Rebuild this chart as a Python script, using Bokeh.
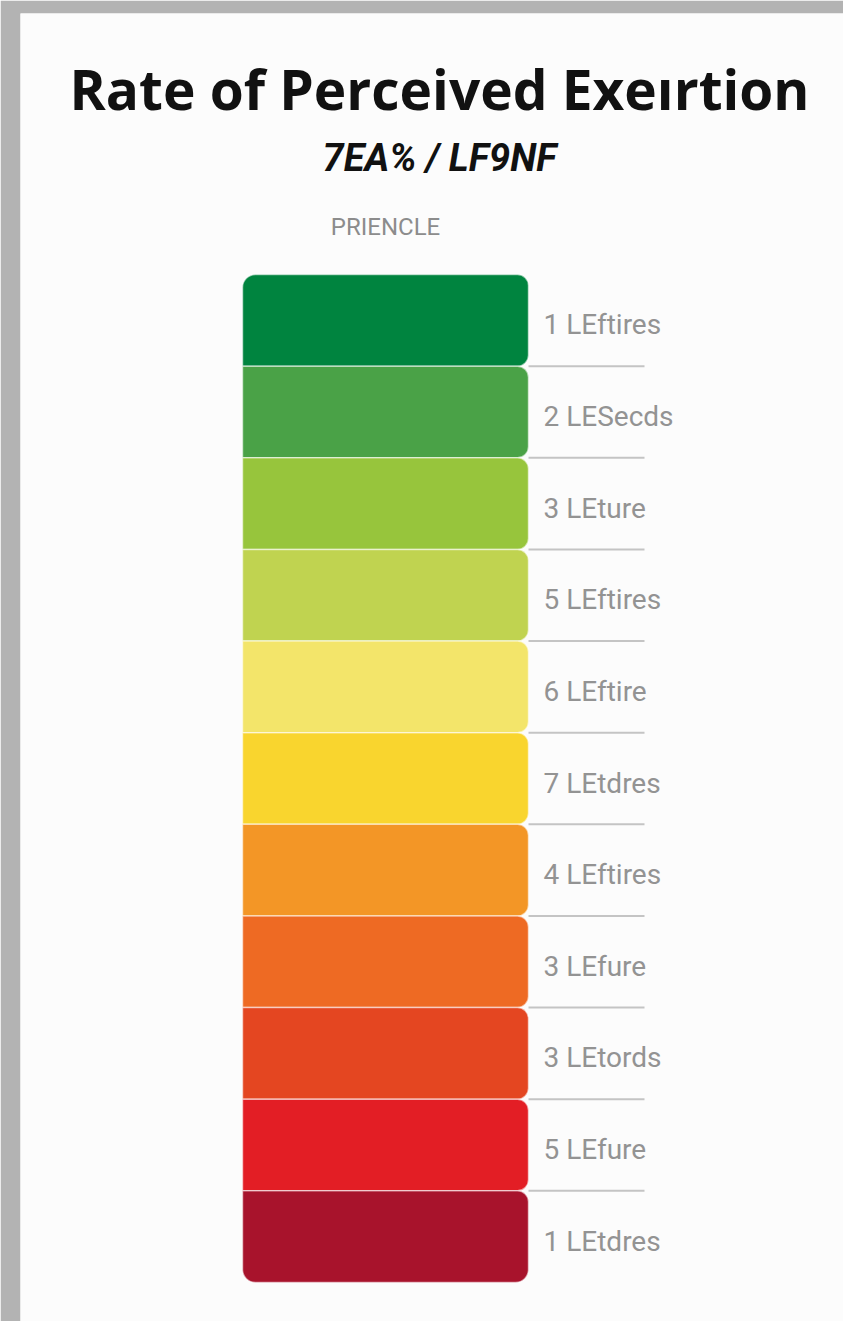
from bokeh.plotting import figure
from bokeh.models import Range1d, ColumnDataSource, CDSView, IndexFilter
from bokeh.core.properties import value
from bokeh.embed import file_html
from bokeh.resources import INLINE

# ---- data ----
levels = ["1 LEftires", "2 LESecds", "3 LEture", "5 LEftires", "6 LEftire",
          "7 LEtdres", "4 LEftires", "3 LEfure", "3 LEtords", "5 LEfure", "1 LEtdres"]
rank = list(range(len(levels)))
colors = ["#00843f", "#4aa247", "#97c53c", "#c0d350", "#f3e56a", "#f9d52e",
          "#f39626", "#ee6a23", "#e44621", "#e31e25", "#a8132c"]
title = "Rate of Perceived Exeırtion"
subtitle = "7EA% / LF9NF"
header = "PRIENCLE"

# ---- layout (screen px mapped to rows) ----
BAR_TOP, BAR_BOT = 274.0, 1282.0
H = (BAR_BOT - BAR_TOP) / len(levels)
def row(px):
    return (px - BAR_TOP) / H - 0.5

FRAME_TOP, FRAME_BOT = 13, 1321

p = figure(width=843, height=1321, output_backend="svg", toolbar_location=None,
           x_range=Range1d(20, 843), y_range=Range1d(row(FRAME_BOT), row(FRAME_TOP)),
           min_border_left=20, min_border_top=13, min_border_right=0, min_border_bottom=0)
p.axis.visible = False
p.grid.visible = False
p.outline_line_color = None
p.border_fill_color = "#b3b3b3"
p.background_fill_color = "#fcfcfc"

src = ColumnDataSource(dict(y=rank, color=colors, label=levels,
                            ly=[r + 0.05 for r in rank]))
n = len(levels)
groups = [([0], (13, 11, 11, 0)),
          (list(range(1, n - 1)), (0, 11, 11, 0)),
          ([n - 1], (0, 11, 13, 13))]
for idx, rad in groups:
    p.hbar(y="y", left=242, right=528, height=1, source=src,
           view=CDSView(filter=IndexFilter(idx)),
           fill_color="color", line_color="white", line_alpha=0.55, line_width=1.5,
           border_radius=rad)

# separator lines between levels
seps = [r + 0.5 for r in rank[:-1]]
p.segment(x0=528, x1=644, y0=seps, y1=seps, line_color="#c4c4c4", line_width=2)

# level labels
p.text(x=543, y="ly", text="label", source=src, text_font=value("Roboto"),
       text_font_size="28px", text_color="#939393", text_baseline="middle",
       text_align="left")

# titles
p.text(x=[439], y=[row(88)], text=[title], text_font=value("Open Sans"),
       text_font_style="bold", text_font_size="55px", text_color="#111111",
       text_baseline="middle", text_align="center")
p.text(x=[439], y=[row(157)], text=[subtitle], text_font=value("Roboto"),
       text_font_style="bold italic", text_font_size="38px", text_color="#111111",
       text_baseline="middle", text_align="center")
p.text(x=[385], y=[row(226)], text=[header], text_font=value("Roboto"),
       text_font_size="24px", text_color="#8c8c8c",
       text_baseline="middle", text_align="center")

open("out.html", "w").write(file_html(p, INLINE))
